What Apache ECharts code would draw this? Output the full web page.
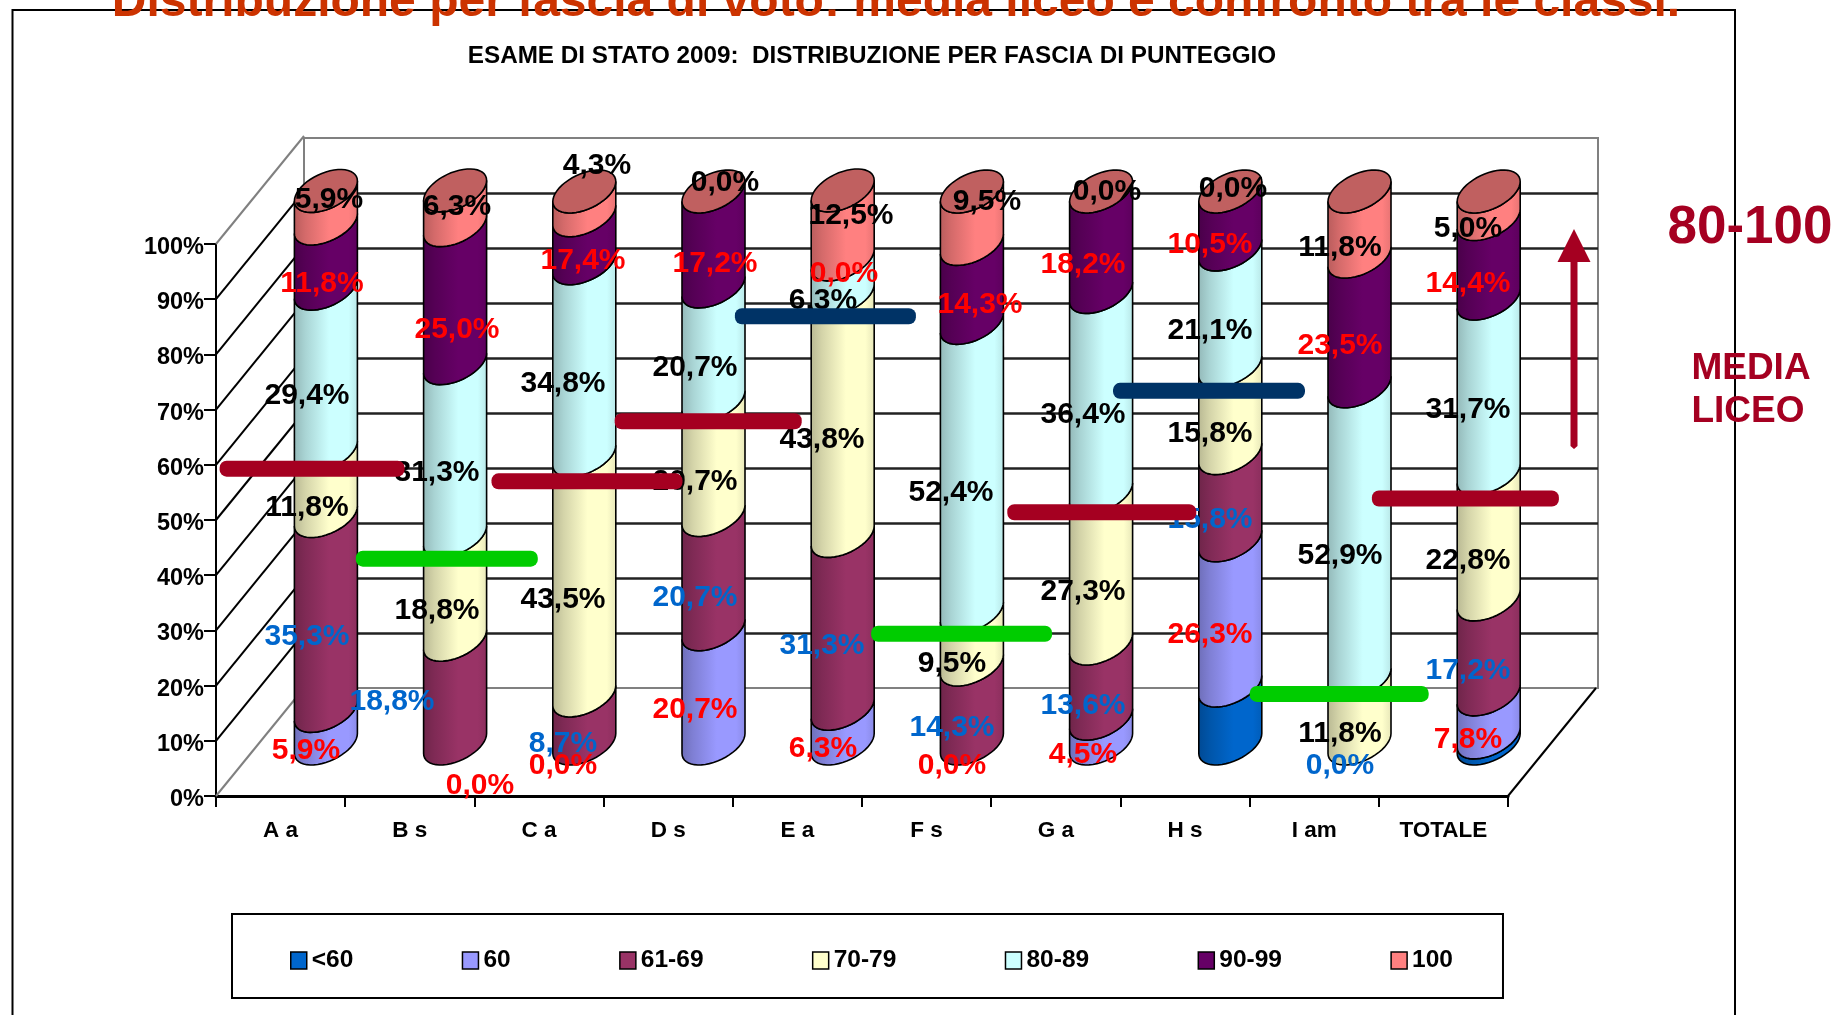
<!DOCTYPE html>
<html><head><meta charset="utf-8">
<style>html,body{margin:0;padding:0;background:#fff}#c{width:1836px;height:1015px}</style>
<script src="https://cdn.jsdelivr.net/npm/echarts@6/dist/echarts.min.js"></script>
</head><body><div id="c"></div>
<script>
// ---------- data ----------
const categories = ['A a','B s','C a','D s','E a','F s','G a','H s','I am','TOTALE'];
const bands = ['<60','60','61-69','70-79','80-89','90-99','100'];
const v_lt60  = [0,0,0,0,0,0,0,10.5,0,1.1];
const v_60    = [5.9,0,0,20.7,6.3,0,4.5,26.3,0,7.8];
const v_61_69 = [35.3,18.8,8.7,20.7,31.3,14.3,13.6,15.8,0,17.2];
const v_70_79 = [11.8,18.8,43.5,20.7,43.8,9.5,27.3,15.8,11.8,22.8];
const v_80_89 = [29.4,31.3,34.8,20.7,6.3,52.4,36.4,21.1,52.9,31.7];
const v_90_99 = [11.8,25.0,8.7,17.2,0,14.3,18.2,10.5,23.5,14.4];
const v_100   = [5.9,6.3,4.3,0,12.5,9.5,0,0,11.8,5.0];
const values = [v_lt60,v_60,v_61_69,v_70_79,v_80_89,v_90_99,v_100];
// printed data labels (as written in the picture)
const t_60    = ['5,9%','0,0%','0,0%','20,7%','6,3%','0,0%','4,5%','26,3%',null,'7,8%'];
const t_61_69 = ['35,3%','18,8%','8,7%','20,7%','31,3%','14,3%','13,6%','15,8%','0,0%','17,2%'];
const t_70_79 = ['11,8%','18,8%','43,5%','20,7%','43,8%','9,5%','27,3%','15,8%','11,8%','22,8%'];
const t_80_89 = ['29,4%','31,3%','34,8%','20,7%','6,3%','52,4%','36,4%','21,1%','52,9%','31,7%'];
const t_90_99 = ['11,8%','25,0%','17,4%','17,2%','0,0%','14,3%','18,2%','10,5%','23,5%','14,4%'];
const t_100   = ['5,9%','6,3%','4,3%','0,0%','12,5%','9,5%','0,0%','0,0%','11,8%','5,0%'];
// school-average bar per class
const mediaValues = [59.3,43.0,57.0,67.9,86.9,29.4,51.4,73.4,18.5,53.9];
const mediaKinds  = ['r','g','r','r','n','g','r','n','g','r'];
const yTicks = [0,10,20,30,40,50,60,70,80,90,100];

// ---------- layout / style ----------
const W = {colors:['#0066cc','#9999ff','#993366','#ffffcc','#ccffff','#660066','#ff8080'], cap:'#c06060'};
const mediaColor = {r:'#a50021', g:'#00cc00', n:'#003366'};
const mediaDx = [31.5,37,48,40,28,35,46,24,25,22];
const mediaLen = [185,182,191,187,181,181,189,192,179,187];
const LABEL_SHIFT_Y = 2.5;
const labelX = {
 l60:[306,480,563,695,823,952,1083,1210,0,1468],
 l61:[307,392,563,695,822,952,1083,1210,1340,1468],
 l70:[307,437,563,695,822,952,1083,1210,1340,1468],
 l80:[307,437,563,695,823,951,1083,1210,1340,1468],
 l90:[322,457,583,715,844,980,1083,1210,1340,1468],
 l100:[329,457,597,725,851,987,1107,1233,1340,1468]};
const labelY = {
 l60:[748,783,763,707,746,763,752,632,0,737],
 l61:[634,699,741,595,643,725,703,517,763,668],
 l70:[505,608,597,479,437,661,589,431,731,558],
 l80:[393,470,381,365,298,490,412,328,553,407],
 l90:[281,327,258,261,271,302,262,242,343,281],
 l100:[197,204,163,180,213,199,189,186,245,226]};
const labelSets = [
 [t_61_69,labelX.l61,labelY.l61,'#0066cc'],
 [t_60,labelX.l60,labelY.l60,'#ff0000'],
 [t_70_79,labelX.l70,labelY.l70,'#000'],
 [t_80_89,labelX.l80,labelY.l80,'#000'],
 [t_90_99,labelX.l90,labelY.l90,'#ff0000'],
 [t_100,labelX.l100,labelY.l100,'#000']];
const FONT = '"Liberation Sans", Arial, sans-serif';
const DEPTH_X = 88, DEPTH_Y = -108;
const COL_DX = 45.3, COL_DY = -52.5, RX = 31.5, RY = 19, SK = 10;

function shade(hex,f){const n=parseInt(hex.slice(1),16);
  const c=[n>>16,(n>>8)&255,n&255].map(v=>Math.round(v*f));return 'rgb('+c.join(',')+')';}
function grad(hex){return new echarts.graphic.LinearGradient(0,0,1,0,[
  {offset:0,color:shade(hex,.72)},{offset:.18,color:shade(hex,.83)},
  {offset:.55,color:shade(hex,1)},{offset:.85,color:shade(hex,1)},{offset:1,color:shade(hex,.9)}]);}
function arc(cx,cy,rev){const p=[];for(let i=0;i<=24;i++){const t=Math.PI*(rev?24-i:i)/24;
  p.push([cx+RX*Math.cos(t),cy+RY*Math.sin(t)-SK*Math.cos(t)]);}return p;}

const series = [];
// side wall + floor edges
series.push({type:'custom',name:'walls',xAxisIndex:0,yAxisIndex:0,z:1,silent:true,
  data:yTicks.map(v=>[0,v]),
  renderItem(p,api){const v=api.value(1);const c=api.coord([0,v]);const hb=api.size([1,0])[0]/2;
    const kids=[{type:'line',shape:{x1:c[0]-hb,y1:c[1],x2:c[0]-hb+DEPTH_X,y2:c[1]+DEPTH_Y},
      style:{stroke:(v===0||v===100)?'#808080':'#000',lineWidth:2}}];
    if(v===0){const e=api.coord([9,0]);kids.push({type:'line',shape:{x1:e[0]+hb,y1:e[1],x2:e[0]+hb+DEPTH_X,y2:e[1]+DEPTH_Y},
      style:{stroke:'#000',lineWidth:2}});}
    return {type:'group',children:kids};}});
// cylinders
bands.forEach((name,si)=>{
  const col=W.colors[si];
  const data=categories.map((c,i)=>{let s=0;for(let k=0;k<si;k++)s+=values[k][i];return [i,s,s+values[si][i]];});
  series.push({type:'custom',name,xAxisIndex:0,yAxisIndex:0,z:2,silent:true,itemStyle:{color:col},
    encode:{x:0,y:[1,2]},data,
    renderItem(p,api){const i=api.value(0),a=api.value(1),b=api.value(2);
      if(b-a<=0)return null;
      const c0=api.coord([i,a]),c1=api.coord([i,b]);
      const x=c0[0]+COL_DX;
      const pts=arc(x,c1[1]+COL_DY,false).concat(arc(x,c0[1]+COL_DY,true));
      return {type:'polygon',shape:{points:pts},style:{fill:grad(col),stroke:'#000',lineWidth:1.6}};}});
});
// top caps
series.push({type:'custom',name:'cap',xAxisIndex:0,yAxisIndex:0,z:3,silent:true,
  data:categories.map((c,i)=>[i,values.reduce((s,a)=>s+a[i],0)]),
  renderItem(p,api){const i=api.value(0);const c=api.coord([i,api.value(1)]);
    const x=c[0]+COL_DX,y=c[1]+COL_DY;
    const a=arc(x,y,false);const b=[];for(let k=0;k<=24;k++){const t=-Math.PI*k/24;b.push([x+RX*Math.cos(t),y+RY*Math.sin(t)-SK*Math.cos(t)]);}
    return {type:'polygon',shape:{points:a.concat(b.slice(1,-1).reverse())},style:{fill:W.cap,stroke:'#000',lineWidth:1.6}};}});
// data labels
const labelRows=[];
labelSets.forEach(([txt,xs,ys,color])=>txt.forEach((t,i)=>{if(t)labelRows.push({t,x:xs[i],y:ys[i]+LABEL_SHIFT_Y,color});}));
series.push({type:'custom',name:'labels',coordinateSystem:'none',z:5,silent:true,
  data:labelRows.map((r,i)=>[i]),
  renderItem(p,api){const r=labelRows[api.value(0)];
    return {type:'text',style:{text:r.t,x:r.x,y:r.y,fill:r.color,align:'center',verticalAlign:'middle',
      textAlign:'center',textVerticalAlign:'middle',font:'bold 30px '+FONT}};}});
// average bars
series.push({type:'custom',name:'media',xAxisIndex:0,yAxisIndex:0,z:6,silent:true,
  data:mediaValues.map((v,i)=>[i,v]),
  renderItem(p,api){const i=api.value(0);const c=api.coord([i,api.value(1)]);
    return {type:'rect',shape:{x:c[0]+mediaDx[i]-mediaLen[i]/2,y:c[1]-8,width:mediaLen[i],height:16,r:7},
      style:{fill:mediaColor[mediaKinds[i]]}};}});

const axisFont={color:'#000',fontWeight:'bold',fontFamily:FONT};
const option={
  animation:false,backgroundColor:'#fff',
  title:[
    {text:'Distribuzione per fascia di voto: media liceo e confronto tra le classi.',left:891,top:-26,textAlign:'center',z:8,
     textStyle:{color:'#cc3300',fontSize:48,fontWeight:'bold',fontFamily:FONT}},
    {text:'ESAME DI STATO 2009:  DISTRIBUZIONE PER FASCIA DI PUNTEGGIO',left:867,top:39,textAlign:'center',z:8,
     textStyle:{color:'#000',fontSize:24.25,fontWeight:'bold',fontFamily:FONT}}],
  grid:[
    {left:216,top:244,width:1292,height:552,containLabel:false},
    {left:304,top:138,width:1294,height:550,show:true,borderColor:'#808080',borderWidth:2,backgroundColor:'transparent'}],
  xAxis:[
    {gridIndex:0,type:'category',data:categories,
     axisLine:{show:true,lineStyle:{color:'#000',width:3}},
     axisTick:{show:true,length:11,lineStyle:{color:'#000',width:2}},
     axisLabel:{...axisFont,fontSize:22.5,margin:23}},
    {gridIndex:1,type:'category',data:categories,show:false}],
  yAxis:[
    {gridIndex:0,type:'value',min:0,max:100,interval:10,
     axisLine:{show:true,lineStyle:{color:'#000',width:2}},
     axisTick:{show:true,length:12,lineStyle:{color:'#000',width:2}},
     splitLine:{show:false},
     axisLabel:{margin:12,formatter:'{t|{value}%}',
       rich:{t:{...axisFont,fontSize:23.5,padding:[7,0,0,0]}}}},
    {gridIndex:1,type:'value',min:0,max:100,interval:10,
     axisLine:{show:false},axisTick:{show:false},axisLabel:{show:false},
     splitLine:{show:true,showMinLine:false,showMaxLine:false,lineStyle:{color:'#222',width:2.5}}}],
  legend:{left:232,top:914,orient:'horizontal',selectedMode:false,itemGap:108.4,itemWidth:16,itemHeight:17,
    padding:[34,50,25,58],borderColor:'#000',borderWidth:2,backgroundColor:'#fff',
    icon:'rect',itemStyle:{borderColor:'#000',borderWidth:1.5},
    textStyle:{color:'#000',fontSize:24.5,fontWeight:'bold',fontFamily:FONT},
    data:bands},
  series,
  graphic:[
    {type:'polyline',z:0,shape:{points:[[12.5,1015],[12.5,10],[1735,10],[1735,1015]]},style:{fill:null,stroke:'#000',lineWidth:2}},
    {type:'text',z:9,style:{text:'80-100',x:1750,y:228,fill:'#a50021',align:'center',verticalAlign:'middle',font:'bold 53px '+FONT}},
    {type:'text',z:9,style:{text:'MEDIA',x:1751,y:369,fill:'#a50021',align:'center',verticalAlign:'middle',font:'bold 37px '+FONT}},
    {type:'text',z:9,style:{text:'LICEO',x:1748,y:412,fill:'#a50021',align:'center',verticalAlign:'middle',font:'bold 37px '+FONT}},
    {type:'polygon',z:9,shape:{points:[[1574,229],[1590.5,262],[1577.5,262],[1577.5,446],[1574,449],[1570.5,446],[1570.5,262],[1557.5,262]]},style:{fill:'#a50021'}}
  ]
};
const chart=echarts.init(document.getElementById('c'),null,{renderer:'canvas'});
chart.setOption(option);
</script></body></html>
